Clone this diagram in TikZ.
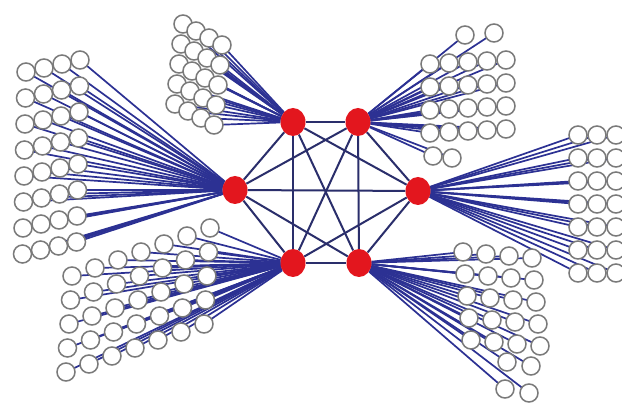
\documentclass[tikz,border=0pt]{standalone}
\usetikzlibrary{calc, backgrounds, shapes.geometric}
\definecolor{hubred}{HTML}{E3161E}
\definecolor{spokeblue}{HTML}{2C3193}
\definecolor{linknavy}{HTML}{2A2E6B}
\definecolor{leafrim}{HTML}{7A7A7A}

% grid of leaves: hub, prefix, origin, column step, row step, last column, last row
\newcommand{\leafgrid}[7]{%
  \foreach \i in {0,...,#6}{
    \foreach \j in {0,...,#7}{
      \node[leaf] (#2-\i-\j) at ($(#3)+\i*(#4)+\j*(#5)$) {};
      \begin{scope}[on background layer]
        \draw[spoke] (#1) -- (#2-\i-\j.center);
      \end{scope}
    }
  }%
}

\begin{document}
\begin{tikzpicture}[x=1pt, y=-1pt,
    hub/.style={ellipse, fill=hubred, minimum width=25pt, minimum height=28pt, inner sep=0pt},
    leaf/.style={circle, draw=leafrim, fill=white, line width=1.5pt, minimum size=18pt, inner sep=0pt},
    spoke/.style={spokeblue, line width=1.7pt},
    link/.style={linknavy, line width=2pt}]
  \begin{scope}[on background layer]
    \fill[white] (0,0) rectangle (622,403);
  \end{scope}
  \useasboundingbox (0,0) rectangle (622,403);
  % hubs
  \node[hub] (hA) at (293,122) {};
  \node[hub] (hB) at (358,122) {};
  \node[hub] (hL) at (235,190) {};
  \node[hub] (hR) at (418,191) {};
  \node[hub] (hC) at (293,263) {};
  \node[hub] (hD) at (359,263) {};
  % every hub linked to every other hub
  \begin{scope}[on background layer]
    \foreach \a/\b in {hA/hB, hA/hL, hA/hR, hA/hC, hA/hD, hB/hL, hB/hR, hB/hC, hB/hD,
                       hL/hR, hL/hC, hL/hD, hR/hC, hR/hD, hC/hD}
      \draw[link] (\a) -- (\b);
  \end{scope}
  % leaf clusters
  \leafgrid{hA}{t}{183,24}{13,7}{-2,20}{3}{4}
  \leafgrid{hB}{tr}{430,64}{19,-1}{0,23}{4}{3}
  \leafgrid{hB}{tra}{465,35}{29,-2}{0,0}{1}{0}
  \leafgrid{hB}{trb}{433,156}{19,2}{0,0}{1}{0}
  \leafgrid{hL}{l}{26,72}{18,-4}{-0.5,26}{3}{7}
  \leafgrid{hR}{r}{578,135}{19,0}{0,23}{2}{6}
  \leafgrid{hC}{bl}{72,276}{23,-8}{-1.5,24}{6}{4}
  \leafgrid{hD}{br}{463,252}{23,2}{2,22}{3}{4}
  \leafgrid{hD}{bra}{507,362}{24,4}{-2,27}{1}{1}
\end{tikzpicture}
\end{document}
